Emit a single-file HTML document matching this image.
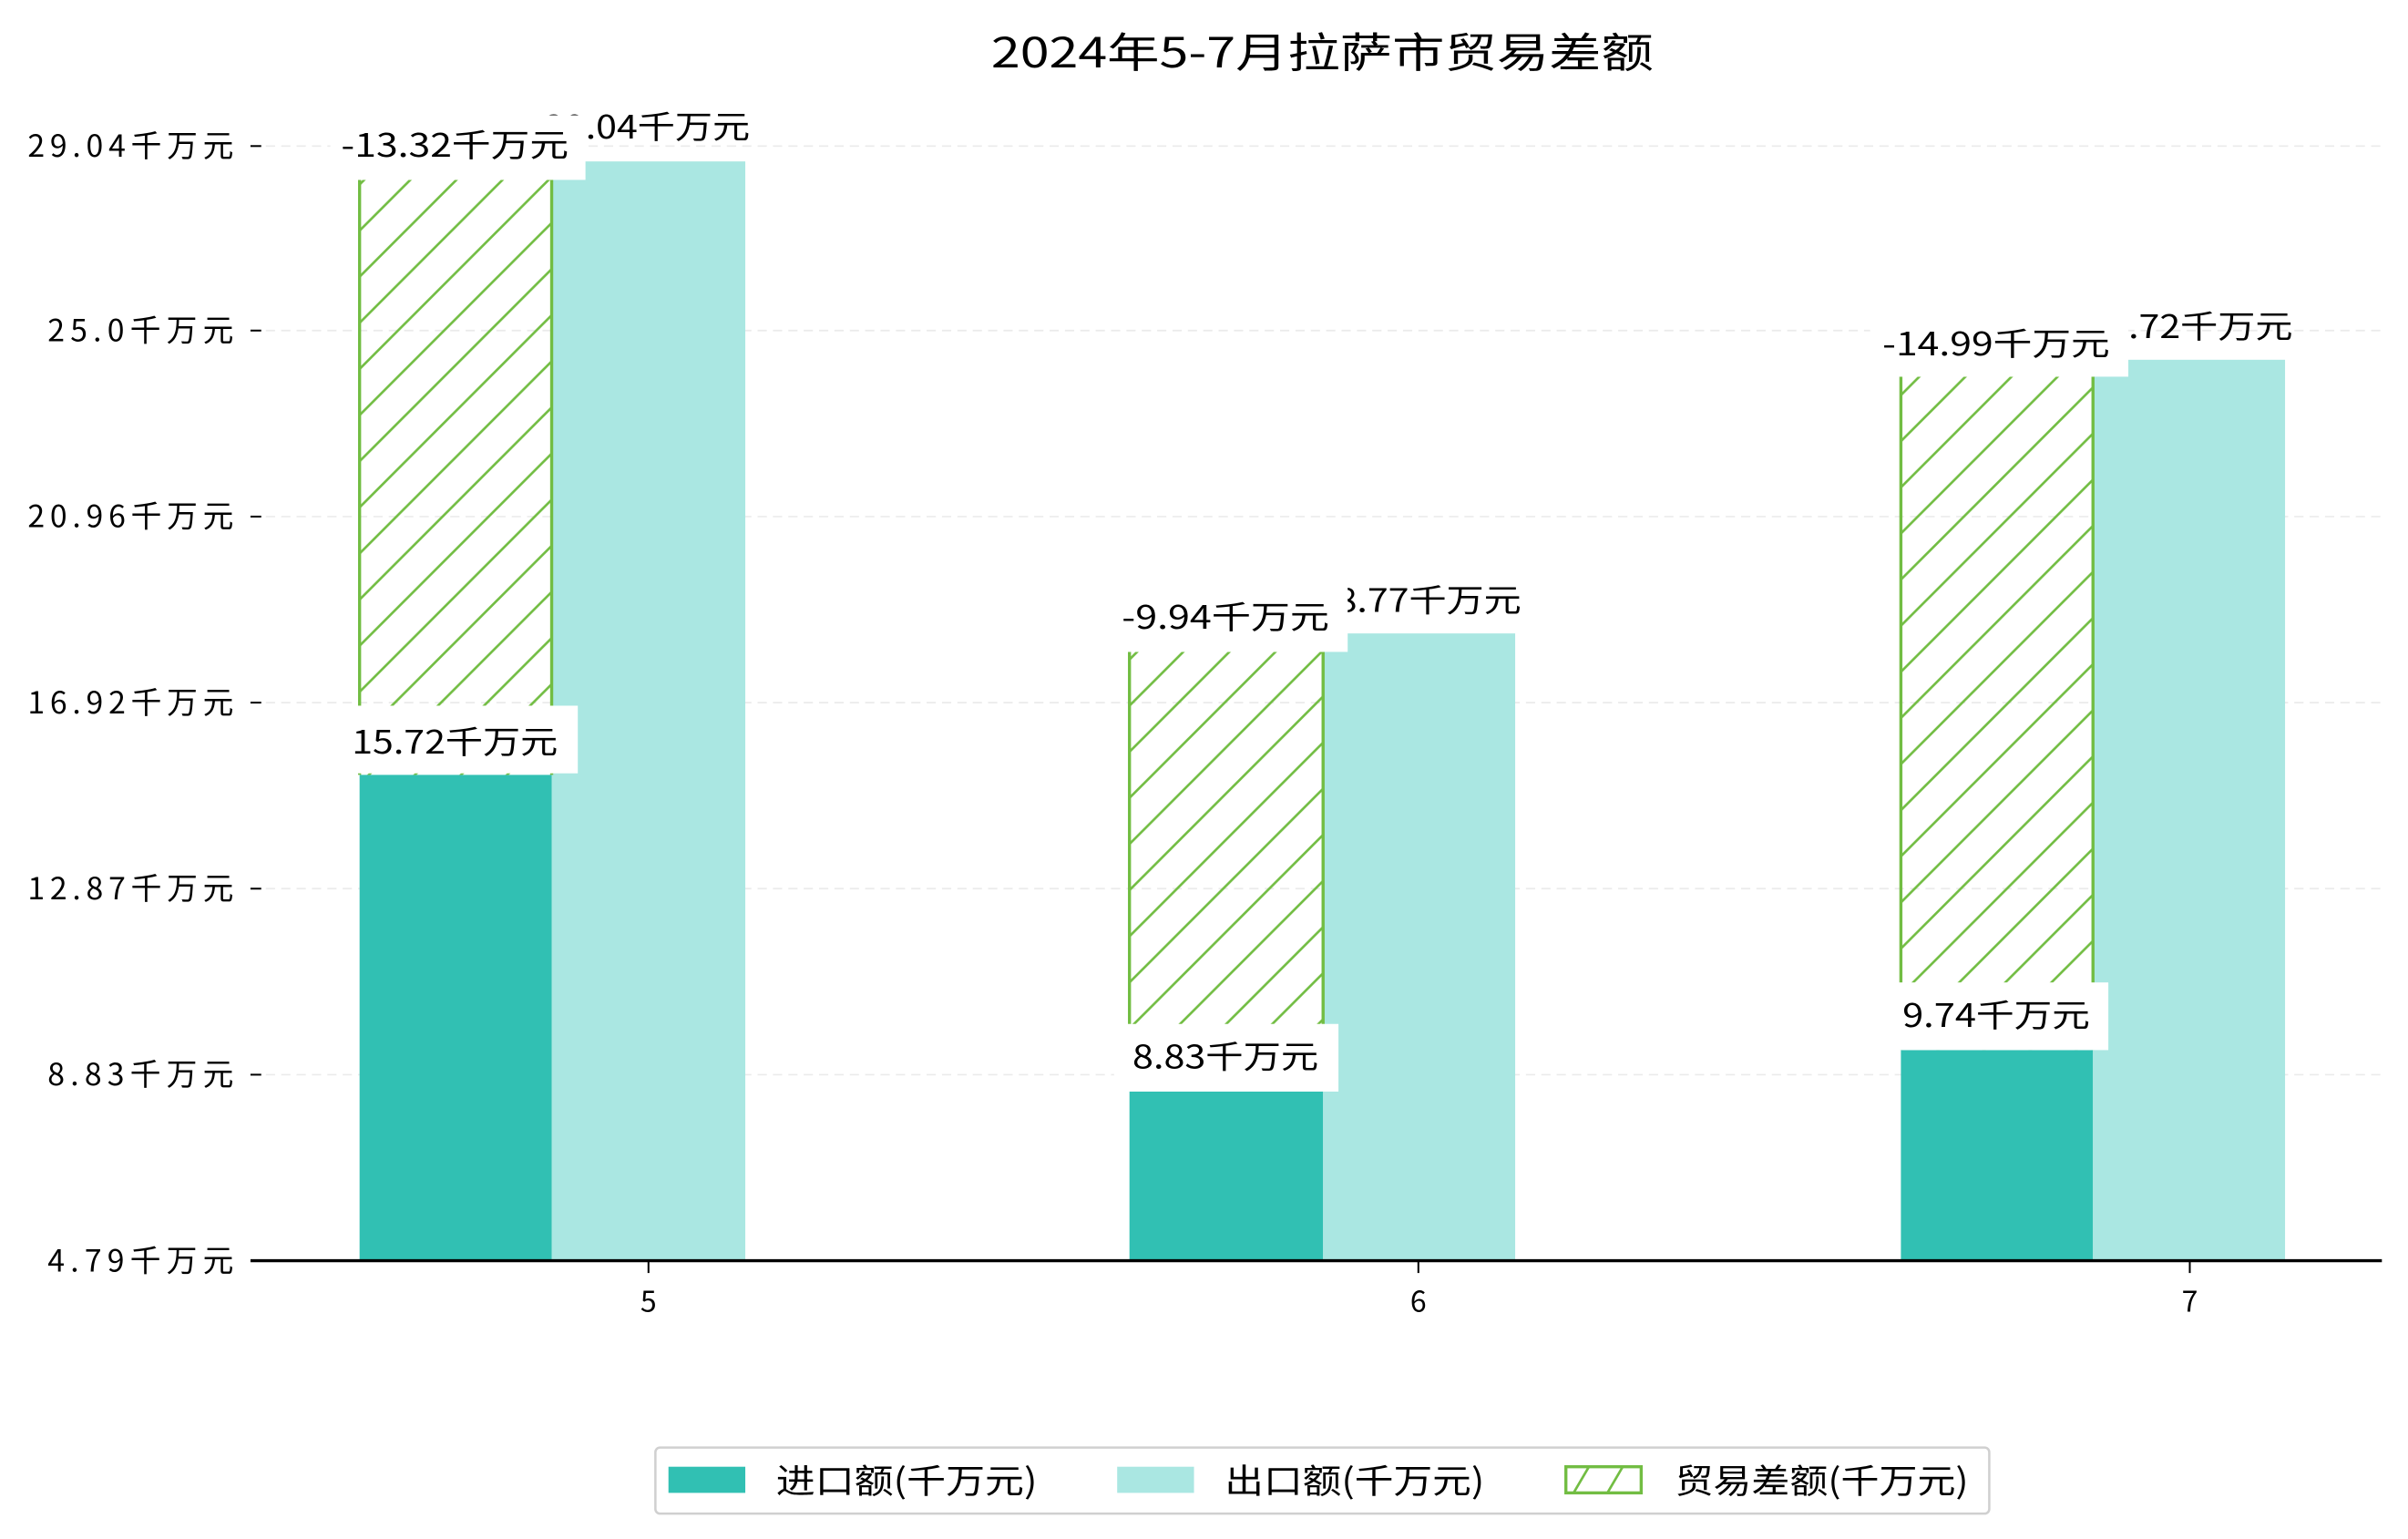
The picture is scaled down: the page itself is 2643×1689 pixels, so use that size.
<!DOCTYPE html>
<html><head><meta charset="utf-8"><style>
html,body{margin:0;padding:0;background:#fff;}
svg{display:block;}
text{font-family:"WenQuanYi Zen Hei","Noto Sans CJK SC",sans-serif;fill:#000;}
</style></head><body>
<svg width="2643" height="1689" viewBox="0 0 1567 1001" preserveAspectRatio="none" xmlns="http://www.w3.org/2000/svg">
<defs>
<pattern id="h" patternUnits="userSpaceOnUse" width="30" height="30" patternTransform="translate(234,0)">
<path d="M-5,35 L35,-5 M-20,20 L20,-20 M10,50 L50,10" stroke="#72bd43" stroke-width="1.6"/>
</pattern>
</defs>
<text x="645" y="44" font-size="27" textLength="431" lengthAdjust="spacingAndGlyphs">2024年5-7月拉萨市贸易差额</text>
<g stroke="#ebebeb" stroke-width="1" stroke-dasharray="6,4">
<line x1="163" y1="95" x2="1550" y2="95"/><line x1="163" y1="215" x2="1550" y2="215"/>
<line x1="163" y1="336" x2="1550" y2="336"/><line x1="163" y1="457" x2="1550" y2="457"/>
<line x1="163" y1="578" x2="1550" y2="578"/><line x1="163" y1="699" x2="1550" y2="699"/>
</g>
<g stroke="#000" stroke-width="1.2">
<line x1="163" y1="95" x2="170" y2="95"/><line x1="163" y1="215" x2="170" y2="215"/>
<line x1="163" y1="336" x2="170" y2="336"/><line x1="163" y1="457" x2="170" y2="457"/>
<line x1="163" y1="578" x2="170" y2="578"/><line x1="163" y1="699" x2="170" y2="699"/>
</g>
<g font-size="20" lengthAdjust="spacingAndGlyphs">
<text x="18" y="102" textLength="134">29.04千万元</text><text x="31" y="222" textLength="121">25.0千万元</text>
<text x="18" y="343" textLength="134">20.96千万元</text><text x="18" y="464" textLength="134">16.92千万元</text>
<text x="18" y="585" textLength="134">12.87千万元</text><text x="31" y="706" textLength="121">8.83千万元</text>
<text x="31" y="827" textLength="121">4.79千万元</text>
</g>
<rect x="234" y="504" width="125" height="316" fill="#31c0b3"/>
<rect x="359" y="105" width="126" height="715" fill="#aae7e2"/>
<rect x="234" y="117" width="125" height="387" fill="url(#h)"/>
<line x1="234" y1="117" x2="234" y2="504" stroke="#72bd43" stroke-width="2"/>
<line x1="359" y1="117" x2="359" y2="504" stroke="#72bd43" stroke-width="2"/>

<rect x="735" y="710" width="126" height="110" fill="#31c0b3"/>
<rect x="861" y="412" width="125" height="408" fill="#aae7e2"/>
<rect x="735" y="424" width="126" height="286" fill="url(#h)"/>
<line x1="735" y1="424" x2="735" y2="710" stroke="#72bd43" stroke-width="2"/>
<line x1="861" y1="424" x2="861" y2="710" stroke="#72bd43" stroke-width="2"/>

<rect x="1237" y="683" width="125" height="137" fill="#31c0b3"/>
<rect x="1362" y="234" width="125" height="586" fill="#aae7e2"/>
<rect x="1237" y="245" width="125" height="438" fill="url(#h)"/>
<line x1="1237" y1="245" x2="1237" y2="683" stroke="#72bd43" stroke-width="2"/>
<line x1="1362" y1="245" x2="1362" y2="683" stroke="#72bd43" stroke-width="2"/>

<g font-size="21">
<text x="354" y="90" textLength="134" lengthAdjust="spacingAndGlyphs">29.04千万元</text>
<text x="856" y="398" textLength="134" lengthAdjust="spacingAndGlyphs">18.77千万元</text>
<text x="1358" y="220" textLength="134" lengthAdjust="spacingAndGlyphs">24.72千万元</text>
<rect x="215" y="75" width="166" height="42" fill="#fff"/><text x="222" y="102" textLength="148" lengthAdjust="spacingAndGlyphs">-13.32千万元</text>
<rect x="725" y="381" width="152" height="43" fill="#fff"/><text x="730" y="409" textLength="135" lengthAdjust="spacingAndGlyphs">-9.94千万元</text>
<rect x="1217" y="202" width="168" height="43" fill="#fff"/><text x="1225" y="231" textLength="148" lengthAdjust="spacingAndGlyphs">-14.99千万元</text>
<rect x="224" y="459" width="152" height="44" fill="#fff"/><text x="229" y="490" textLength="134" lengthAdjust="spacingAndGlyphs">15.72千万元</text>
<rect x="725" y="666" width="146" height="44" fill="#fff"/><text x="737" y="695" textLength="121" lengthAdjust="spacingAndGlyphs">8.83千万元</text>
<rect x="1227" y="639" width="145" height="44" fill="#fff"/><text x="1238" y="668" textLength="122" lengthAdjust="spacingAndGlyphs">9.74千万元</text>
</g>
<line x1="163" y1="820" x2="1550" y2="820" stroke="#000" stroke-width="2"/>
<g stroke="#000" stroke-width="1.2">
<line x1="422" y1="820" x2="422" y2="828"/><line x1="923" y1="820" x2="923" y2="828"/><line x1="1425" y1="820" x2="1425" y2="828"/>
</g>
<g font-size="19" text-anchor="middle">
<text x="422" y="853">5</text><text x="923" y="853">6</text><text x="1425" y="853">7</text>
</g>
<rect x="426.5" y="941.5" width="868" height="43" rx="3" fill="#fff" stroke="#d0d0d0" stroke-width="1.5"/>
<rect x="435" y="954" width="50" height="17" fill="#31c0b3"/>
<text x="505" y="971" font-size="22" textLength="170" lengthAdjust="spacingAndGlyphs">进口额(千万元)</text>
<rect x="727" y="954" width="50" height="17" fill="#aae7e2"/>
<text x="797" y="971" font-size="22" textLength="169" lengthAdjust="spacingAndGlyphs">出口额(千万元)</text>
<rect x="1019" y="954" width="49" height="17" fill="#fff" stroke="#72bd43" stroke-width="2"/>
<path d="M1024,971 L1034,954 M1046,971 L1056,954" stroke="#72bd43" stroke-width="1.6"/>
<text x="1090" y="971" font-size="22" textLength="191" lengthAdjust="spacingAndGlyphs">贸易差额(千万元)</text>
</svg>
</body></html>
